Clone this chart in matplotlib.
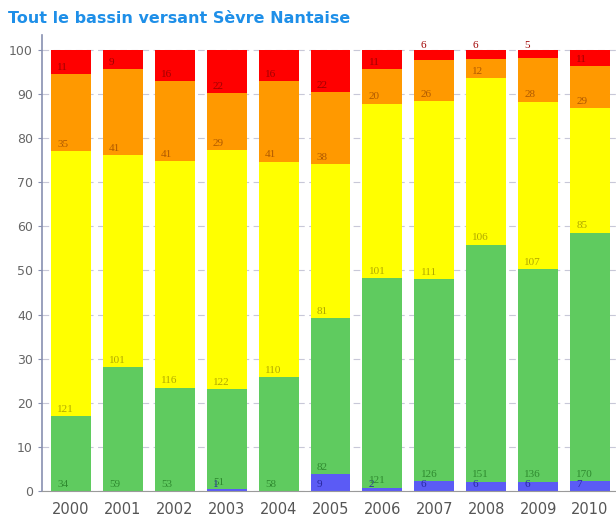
import numpy as np
import matplotlib
matplotlib.use("Agg")
import matplotlib.pyplot as plt

years = ['2000', '2001', '2002', '2003', '2004', '2005', '2006', '2007', '2008', '2009', '2010']
# counts per quality class
bleu = [0, 0, 0, 1, 0, 9, 2, 6, 6, 6, 7]
vert = [34, 59, 53, 51, 58, 82, 121, 126, 151, 136, 170]
jaune = [121, 101, 116, 122, 110, 81, 101, 111, 106, 107, 85]
orange = [35, 41, 41, 29, 41, 38, 20, 26, 12, 28, 29]
rouge = [11, 9, 16, 22, 16, 22, 11, 6, 6, 5, 11]

series = [bleu, vert, jaune, orange, rouge]
colors = ['#5b5bf5', '#5fcb5f', '#ffff00', '#ff9900', '#ff0000']
txt_colors = ['#2828a0', '#2f8a2f', '#b0a800', '#b05a00', '#a00000']

counts = np.array(series, dtype=float)
pct = counts / counts.sum(axis=0) * 100

fig = plt.figure(figsize=(6.16, 5.22), dpi=100)
ax = fig.add_axes([0.068, 0.0594, 0.932, 0.8736])

x = np.arange(len(years))
w = 0.77
bottom = np.zeros(len(years))
for i in range(len(series)):
    ax.bar(x, pct[i], w, bottom=bottom, color=colors[i], zorder=2)
    for j in range(len(years)):
        if counts[i, j] == 0:
            continue
        if pct[i, j] < 3 and i == 4:
            yt = 100.0
        else:
            yt = bottom[j] + 0.5
        ax.text(x[j] - w / 2 + 0.12, yt, str(int(counts[i, j])), color=txt_colors[i],
                fontsize=8, family='Liberation Serif', va='bottom', ha='left', zorder=3)
    bottom += pct[i]

ax.set_xlim(-0.56, 10.5)
ax.set_ylim(0, 103.4)
ax.set_yticks(range(0, 101, 10))
ax.set_xticks(x)
ax.set_xticklabels(years)
ax.yaxis.grid(True, linestyle=(0, (6, 4)), color='#c8c8d8', linewidth=0.8, zorder=0)
ax.set_axisbelow(True)

for s in ['top', 'right']:
    ax.spines[s].set_visible(False)
ax.spines['left'].set_color('#8890b0')
ax.spines['bottom'].set_color('#9a9a9a')
ax.spines['left'].set_linewidth(1.2)
ax.tick_params(axis='y', colors='#8890b0', labelcolor='#666666', labelsize=9, length=3)
ax.tick_params(axis='x', length=0, labelcolor='#555555', labelsize=10.5, pad=8)

fig.text(0.013, 0.965, 'Tout le bassin versant Sèvre Nantaise', color='#1e8fe8',
         fontsize=11.5, fontweight='bold', va='center', ha='left')

fig.savefig('out.png', dpi=100)
